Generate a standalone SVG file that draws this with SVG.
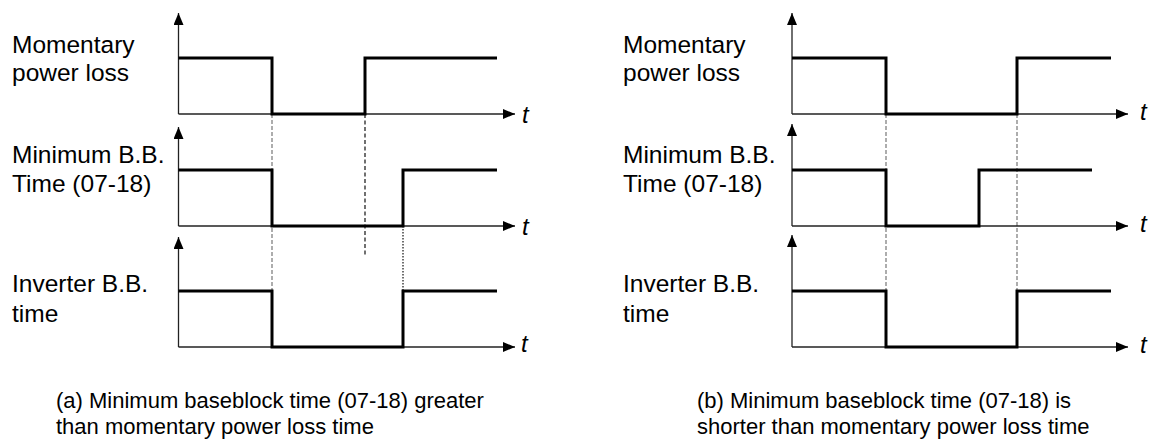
<svg xmlns="http://www.w3.org/2000/svg" width="1151" height="441" viewBox="0 0 1151 441">
<defs>
<marker id="ah" viewBox="0 0 12 10" refX="12" refY="5" markerWidth="12" markerHeight="10" markerUnits="userSpaceOnUse" orient="auto">
<path d="M0,0 L12,5 L0,10 Z" fill="#000"/>
</marker>
<style>
.lbl{font-family:"Liberation Sans",Arial,sans-serif;font-size:24.5px;fill:#000}
.cap{font-family:"Liberation Sans",Arial,sans-serif;font-size:22px;fill:#000}
.t{font-family:"Liberation Sans",Arial,sans-serif;font-size:24px;font-style:italic;fill:#000}
.ax{stroke:#222;stroke-width:1.3;fill:none;marker-end:url(#ah)}
.sig{stroke:#000;stroke-width:3;fill:none;stroke-linejoin:miter}
.dg{stroke:#777;stroke-width:1.2;stroke-dasharray:4 2;fill:none}
.dk{stroke:#111;stroke-width:1.2;stroke-dasharray:4 2.5;fill:none}
.dt{stroke:#222;stroke-width:1.3;stroke-dasharray:1.5 1.5;fill:none}
</style>
</defs>
<rect width="1151" height="441" fill="#fff"/>

<g id="connectors">
<path class="dg" d="M272,114 V347"/>
<path class="dk" d="M365,114 V255"/>
<path class="dt" d="M403,226 V291"/>
<path class="dg" d="M886,114 V291"/>
<path class="dg" d="M1017,114 V291"/>
</g>

<g id="panel-a-power-loss">
<path class="ax" d="M178.5,114 V13"/>
<path class="ax" d="M178.5,114 H515"/>
<path class="sig" d="M178.5,58 H272 V114 H365 V58 H497"/>
<text class="lbl" x="12" y="53">Momentary</text>
<text class="lbl" x="12" y="81">power loss</text>
<text class="t" x="522" y="123">t</text>
</g>

<g id="panel-a-min-bb">
<path class="ax" d="M178.5,226 V127"/>
<path class="ax" d="M178.5,226 H515"/>
<path class="sig" d="M178.5,170 H272 V226 H403 V170 H497"/>
<text class="lbl" x="12" y="163">Minimum B.B.</text>
<text class="lbl" x="12" y="192">Time (07-18)</text>
<text class="t" x="522" y="235">t</text>
</g>

<g id="panel-a-inverter-bb">
<path class="ax" d="M178.5,347 V237"/>
<path class="ax" d="M178.5,347 H515"/>
<path class="sig" d="M178.5,291 H272 V347 H403 V291 H497"/>
<text class="lbl" x="12" y="292">Inverter B.B.</text>
<text class="lbl" x="12" y="322">time</text>
<text class="t" x="521" y="352">t</text>
</g>

<g id="panel-b-power-loss">
<path class="ax" d="M792,114 V13"/>
<path class="ax" d="M792,114 H1128"/>
<path class="sig" d="M792,58 H886 V114 H1017 V58 H1111"/>
<text class="lbl" x="623" y="53">Momentary</text>
<text class="lbl" x="623" y="81">power loss</text>
<text class="t" x="1140" y="120">t</text>
</g>

<g id="panel-b-min-bb">
<path class="ax" d="M792,226 V124"/>
<path class="ax" d="M792,226 H1128"/>
<path class="sig" d="M792,170 H886 V226 H979 V170 H1092"/>
<text class="lbl" x="623" y="163">Minimum B.B.</text>
<text class="lbl" x="623" y="192">Time (07-18)</text>
<text class="t" x="1140" y="232">t</text>
</g>

<g id="panel-b-inverter-bb">
<path class="ax" d="M792,347 V235"/>
<path class="ax" d="M792,347 H1128"/>
<path class="sig" d="M792,291 H886 V347 H1017 V291 H1111"/>
<text class="lbl" x="623" y="292">Inverter B.B.</text>
<text class="lbl" x="623" y="322">time</text>
<text class="t" x="1140" y="353">t</text>
</g>

<g id="caption-a">
<text class="cap" x="56" y="408">(a) Minimum baseblock time (07-18) greater</text>
<text class="cap" x="56" y="434">than momentary power loss time</text>
</g>
<g id="caption-b">
<text class="cap" x="697" y="408">(b) Minimum baseblock time (07-18) is</text>
<text class="cap" x="697" y="434">shorter than momentary power loss time</text>
</g>
</svg>
